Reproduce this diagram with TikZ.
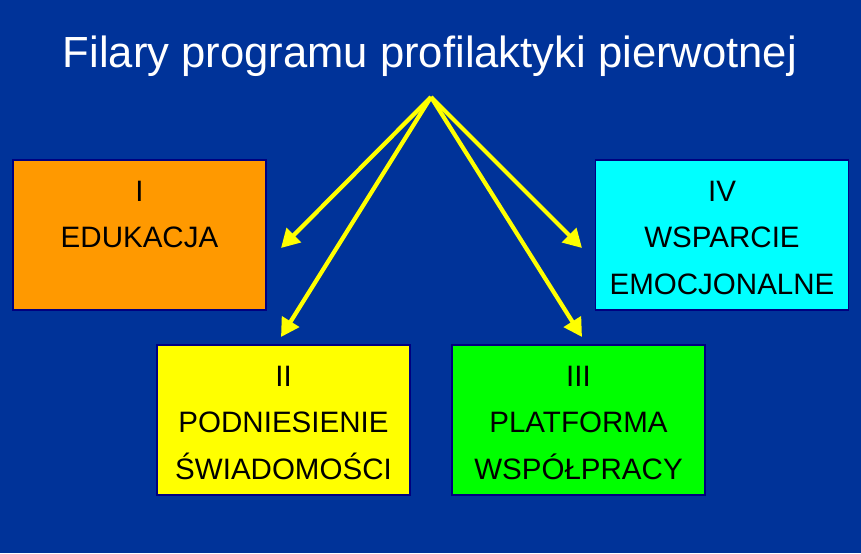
\documentclass[tikz,border=0pt]{standalone}
\usepackage{fontspec}
\setmainfont{Liberation Sans}
\usetikzlibrary{arrows.meta,calc}
\definecolor{slideblue}{RGB}{0,51,153}
\definecolor{boxedge}{RGB}{0,0,128}
\definecolor{pillarorange}{RGB}{255,153,0}
\definecolor{pillaryellow}{RGB}{255,255,0}
\definecolor{pillargreen}{RGB}{0,255,0}
\definecolor{pillarcyan}{RGB}{0,255,255}
\begin{document}
\begin{tikzpicture}[
        x=0.025cm, y=-0.025cm,
        title/.style={font=\fontsize{31}{37}\selectfont, text=white,
            inner sep=0pt},
        pillar/.style={rectangle, draw=boxedge, line width=0.8pt,
            minimum width=6.325cm, minimum height=3.75cm, inner sep=0pt},
        pillartext/.style={align=center, inner sep=0pt,
            font=\fontsize{21}{33.1}\selectfont},
        ray/.style={-{Triangle[length=13pt, width=14pt]},
            line width=3pt, draw=pillaryellow}
      ]
      \fill[slideblue] (0,0) rectangle (861,553);
      \node[title, anchor=base] (head) at (430,67)
      {Filary programu profilaktyki pierwotnej};
      % the four pillars
      \node[pillar, fill=pillarorange] (edu) at (139.5,235) {};
      \node[pillartext, anchor=north] (edutxt) at ($(edu.north)+(0,21)$)
      {I\\EDUKACJA};
      \node[pillar, fill=pillaryellow] (swiad) at (283.5,420) {};
      \node[pillartext, anchor=north] (swiadtxt) at ($(swiad.north)+(0,21)$)
      {II\\PODNIESIENIE\\ŚWIADOMOŚCI};
      \node[pillar, fill=pillargreen] (wspol) at (578.5,420) {};
      \node[pillartext, anchor=north] (wspoltxt) at ($(wspol.north)+(0,21)$)
      {III\\PLATFORMA\\WSPÓŁPRACY};
      \node[pillar, fill=pillarcyan] (emo) at (722,235) {};
      \node[pillartext, anchor=north] (emotxt) at ($(emo.north)+(0,21)$)
      {IV\\WSPARCIE\\EMOCJONALNE};
      % arrows from below the title
      \coordinate (hub) at (431,97);
      \coordinate (toedu) at (281,248);
      \coordinate (toswiad) at (281,337);
      \coordinate (towspol) at (582,337);
      \coordinate (toemo) at (582,248);
      \foreach \tip in {toedu, toswiad, towspol, toemo}{
          \draw[ray] (hub) -- (\tip);
        }
    \end{tikzpicture}
\end{document}
